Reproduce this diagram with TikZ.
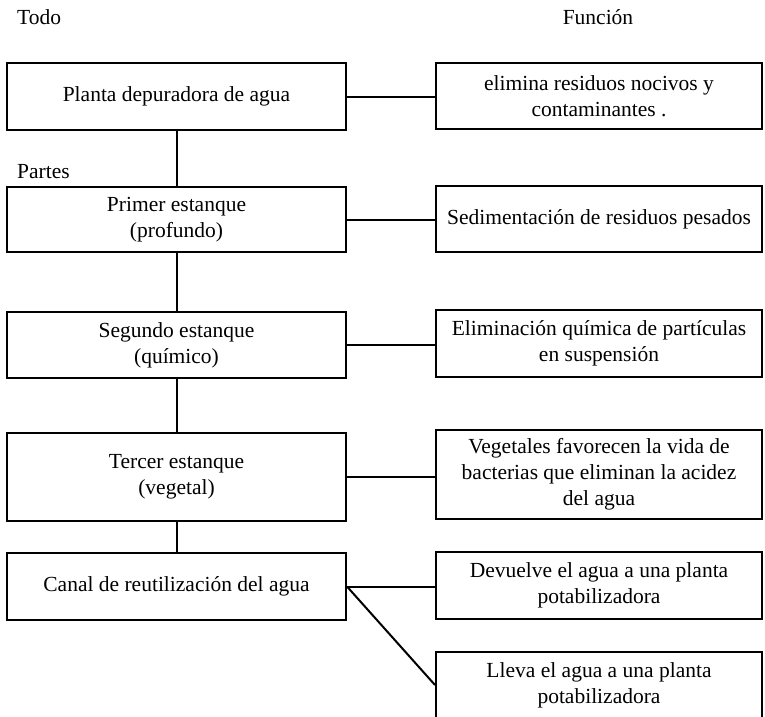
\documentclass[tikz,border=0pt]{standalone}
\usepackage{fontspec}
\setmainfont{Liberation Serif}
\begin{document}
\begin{tikzpicture}[x=1pt,y=-1pt,
  every node/.style={font=\fontsize{21.5}{26}\selectfont},
  lbox/.style={draw, line width=2pt, inner sep=0pt, align=center, minimum width=339pt},
  rbox/.style={draw, line width=2pt, inner sep=0pt, align=center, minimum width=326pt},
  link/.style={line width=2pt},
  lbl/.style={inner sep=0pt, anchor=base west}]
\clip (0,0) rectangle (765,716);
\fill[white] (0,0) rectangle (765,716);

\node[lbl] (todo) at (17,24) {Todo};
\node[inner sep=0pt, anchor=base] (funcion) at (598,24) {Función};
\node[lbl] (partes) at (17,178) {Partes};

\node[lbox, minimum height=67pt] (b1) at (176.5,96.5) {Planta depuradora de agua};
\node[lbox, minimum height=65pt] (b2) at (176.5,219.5) {Primer estanque\\(profundo)};
\node[lbox, minimum height=66pt] (b3) at (176.5,345) {Segundo estanque\\(químico)};
\node[lbox, minimum height=88pt] (b4) at (176.5,477) {Tercer estanque\\(vegetal)};
\node[lbox, minimum height=67pt] (b5) at (176.5,586.5) {Canal de reutilización del agua};

\node[rbox, minimum height=66pt] (r1) at (599,96) {elimina residuos nocivos y\\contaminantes .};
\node[rbox, minimum height=66pt] (r2) at (599,219) {Sedimentación de residuos pesados};
\node[rbox, minimum height=67pt] (r3) at (599,343.5) {Eliminación química de partículas\\en suspensión};
\node[rbox, minimum height=89pt] (r4) at (599,474.5) {Vegetales favorecen la vida de\\bacterias que eliminan la acidez\\del agua};
\node[rbox, minimum height=67pt] (r5) at (599,585.5) {Devuelve el agua a una planta\\potabilizadora};
\node[rbox, minimum height=66pt] (r6) at (599,685) {Lleva el agua a una planta\\potabilizadora};

\draw[link] (b1.south) -- (b2.north);
\draw[link] (b2.south) -- (b3.north);
\draw[link] (b3.south) -- (b4.north);
\draw[link] (b4.south) -- (b5.north);

\draw[link] (b1.east) -- (b1.east -| r1.west);
\draw[link] (b2.east) -- (b2.east -| r2.west);
\draw[link] (b3.east) -- (b3.east -| r3.west);
\draw[link] (b4.east) -- (b4.east -| r4.west);
\draw[link] (b5.east) -- (b5.east -| r5.west);
\draw[link] (b5.east) -- (r6.west);
\end{tikzpicture}
\end{document}
